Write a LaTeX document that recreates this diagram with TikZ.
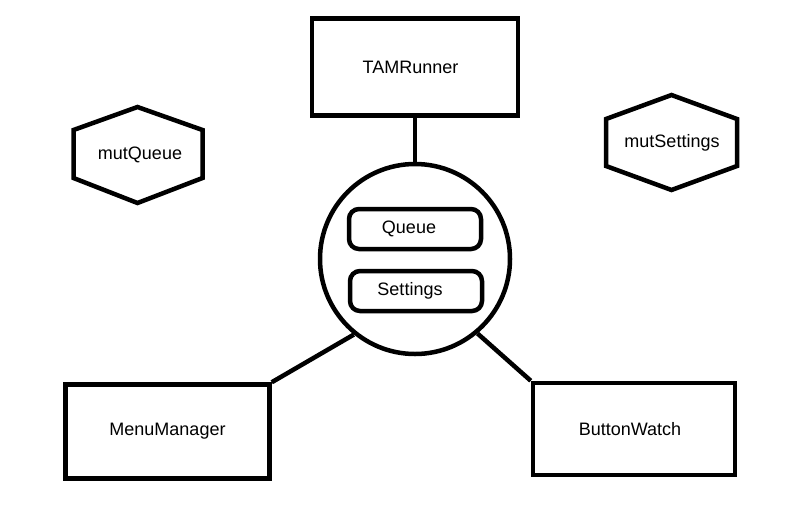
\documentclass[tikz,border=0pt]{standalone}
\usepackage{fontspec}
\setmainfont{Liberation Sans}
\usetikzlibrary{calc}
\newcommand{\txtleft}[1]{\hspace*{-#1}}
\begin{document}
\begin{tikzpicture}[x=1pt,y=-1pt,
  every node/.style={font=\fontsize{18}{20}\selectfont, inner sep=0pt},
  thick line/.style={line width=4.5pt},
  boxnode/.style={draw, thick line, minimum width=204pt, minimum height=94pt},
  pillnode/.style={draw, thick line, rounded corners=10pt, minimum width=132pt, minimum height=40pt},
  hexlabel/.style={},
  link/.style={thick line}
]
\useasboundingbox (0,0) rectangle (795,531);
% boxes
\node[boxnode, minimum width=206pt, minimum height=97pt] (tam) at (415,67) {\txtleft{9pt}TAMRunner};
\node[boxnode] (mm) at (167.5,431.5) {\raisebox{-3pt}{MenuManager}};
\node[boxnode, minimum width=202pt, minimum height=92pt] (bw) at (634,429) {\txtleft{8pt}ButtonWatch};
% circle
\node[draw, thick line, circle, minimum size=190pt] (c) at (415,259) {};
\node[pillnode] (q) at (415,229) {\txtleft{12pt}Queue};
\node[pillnode] (s) at (416,291) {\txtleft{12pt}Settings};
% hexagons
\node[hexlabel] (mq) at (140,155) {mutQueue};
\draw[thick line, line join=miter] ($(mq)+(-2.5,-48)$) -- ($(mq)+(62.5,-25)$) -- ($(mq)+(62.5,23)$) -- ($(mq)+(-2.5,48)$) -- ($(mq)+(-66.5,23)$) -- ($(mq)+(-66.5,-25)$) -- cycle;
\node[hexlabel] (ms) at (672,142.5) {mutSettings};
\draw[thick line, line join=miter] ($(ms)+(-0.5,-47.5)$) -- ($(ms)+(65,-23.5)$) -- ($(ms)+(65,23.5)$) -- ($(ms)+(-0.5,47.5)$) -- ($(ms)+(-66,23.5)$) -- ($(ms)+(-66,-23.5)$) -- cycle;
% connectors
\draw[link] (tam.south) -- (c.north);
\draw[link] (mm.north east) -- (c.231);
\draw[link] (bw.north west) -- (c.310);
\end{tikzpicture}
\end{document}
